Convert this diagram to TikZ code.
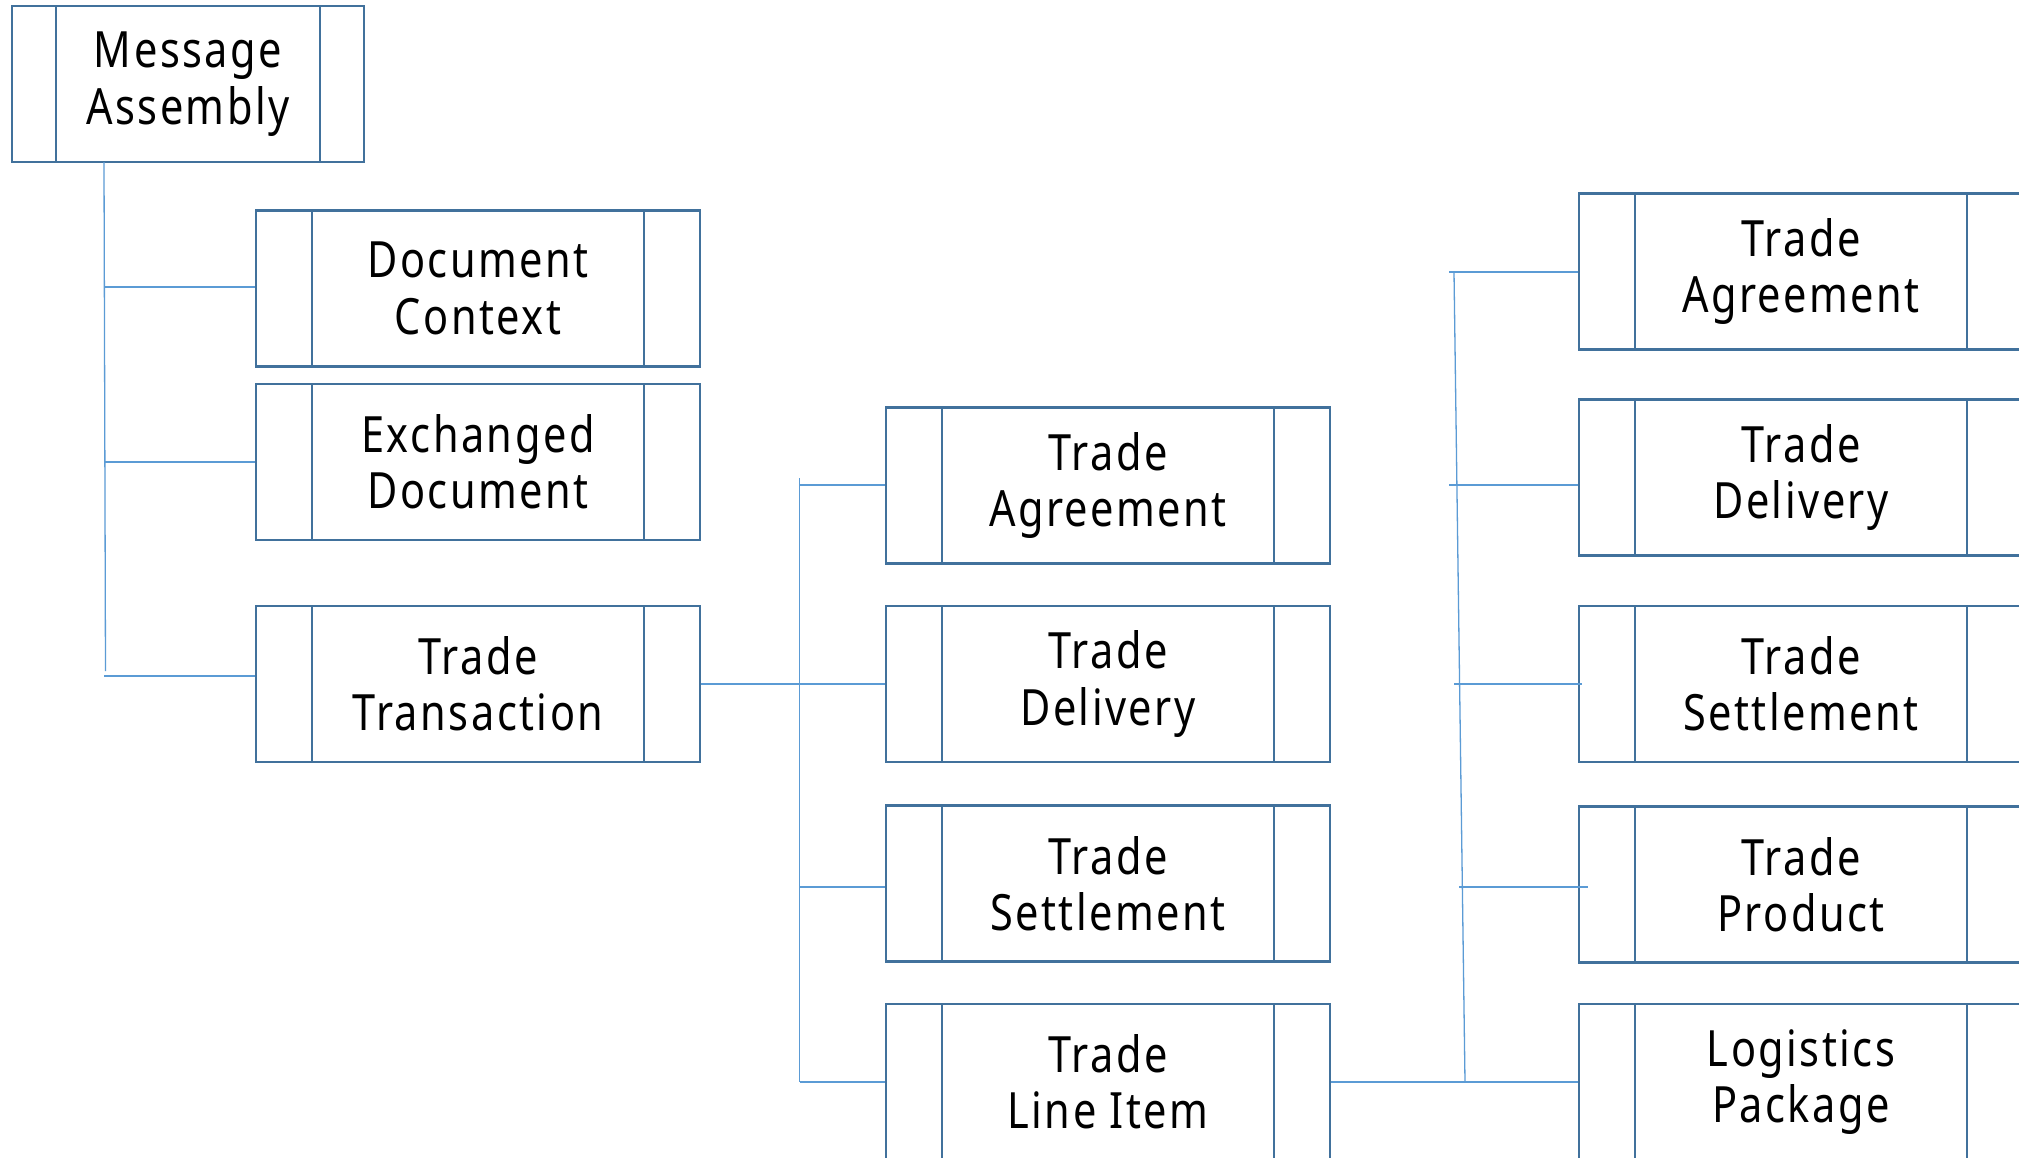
\documentclass[tikz,border=0pt]{standalone}
\usepackage{fontspec}
\newfontfamily\boxfont[FakeStretch=0.83,LetterSpace=5]{Noto Sans}
\definecolor{boxc}{HTML}{41719C}
\definecolor{linec}{HTML}{5B9BD5}
\tikzset{
  inset/.store in=\bxinset, inset=28pt,
  pbox/.style={draw=boxc, line width=1.45pt, fill=white, inner sep=0pt,
    minimum width=222pt, minimum height=78pt, align=center,
    font=\boxfont\fontsize{25pt}{28.2pt}\selectfont,
    path picture={\draw[boxc,line width=1.45pt]
      ([xshift=\bxinset]path picture bounding box.north west) -- ([xshift=\bxinset]path picture bounding box.south west)
      ([xshift=-\bxinset]path picture bounding box.north east) -- ([xshift=-\bxinset]path picture bounding box.south east);}},
  conn/.style={draw=linec, line width=0.65pt}
}
\begin{document}
\begin{tikzpicture}[x=0.5pt,y=-0.5pt]
\fill[white] (0,0) rectangle (2019,1157);
\useasboundingbox (0,0) rectangle (2019,1157);
% left column
\node[pbox, inset=22pt, minimum width=176pt] (ma) at (188,84) {Message\\Assembly};
\node[pbox] (dc) at (478,288.5) {Document\\Context};
\node[pbox] (ed) at (478,462) {Exchanged\\Document};
\node[pbox] (tt) at (478,684) {Trade\\Transaction};
% middle column
\node[pbox] (ta) at (1108,485.5) {Trade\\Agreement};
\node[pbox] (td) at (1108,684) {Trade\\Delivery};
\node[pbox] (ts) at (1108,883.5) {Trade\\Settlement};
\node[pbox] (tli) at (1108,1082) {Trade\\Line Item};
% right column
\node[pbox] (rta) at (1801,271.5) {Trade\\Agreement};
\node[pbox] (rtd) at (1801,477.5) {Trade\\Delivery};
\node[pbox] (rts) at (1801,684) {Trade\\Settlement};
\node[pbox] (rtp) at (1801,884.5) {Trade\\Product};
\node[pbox] (lp) at (1801,1082) {Logistics\\Package};
% left connectors
\coordinate (lsT) at (104,162);
\coordinate (lsB) at (105.5,671);
\draw[conn] (lsT) -- (lsB);
\coordinate (l1) at (104,287);
\coordinate (l2) at (104.5,462);
\coordinate (l3) at (104,676);
\draw[conn] (l1) -- (l1 -| dc.west);
\draw[conn] (l2) -- (l2 -| ed.west);
\draw[conn] (l3) -- (l3 -| tt.west);
% middle connectors
\coordinate (mT) at (799.5,478);
\coordinate (m1) at (799.5,485);
\coordinate (m3) at (799.5,887);
\draw[conn] (mT) -- (mT |- tli.west);
\draw[conn] (m1) -- (m1 -| ta.west);
\draw[conn] (tt.east) -- (td.west);
\draw[conn] (m3) -- (m3 -| ts.west);
\draw[conn] (tli.west -| mT) -- (tli.west);
% right connectors
\coordinate (rT) at (1454,272);
\coordinate (rB) at (1465,1082);
\draw[conn] (rT) -- (rB);
\coordinate (r1) at (1449,272);
\coordinate (r2) at (1449,485);
\coordinate (r3) at (1454,684);
\coordinate (r4) at (1459,887);
\draw[conn] (r1) -- (r1 -| rta.west);
\draw[conn] (r2) -- (r2 -| rtd.west);
\draw[conn] (r3) -- ([xshift=2pt]r3 -| rts.west);
\draw[conn] (r4) -- ([xshift=5pt]r4 -| rtp.west);
\draw[conn] (tli.east) -- (lp.west);
\end{tikzpicture}
\end{document}
